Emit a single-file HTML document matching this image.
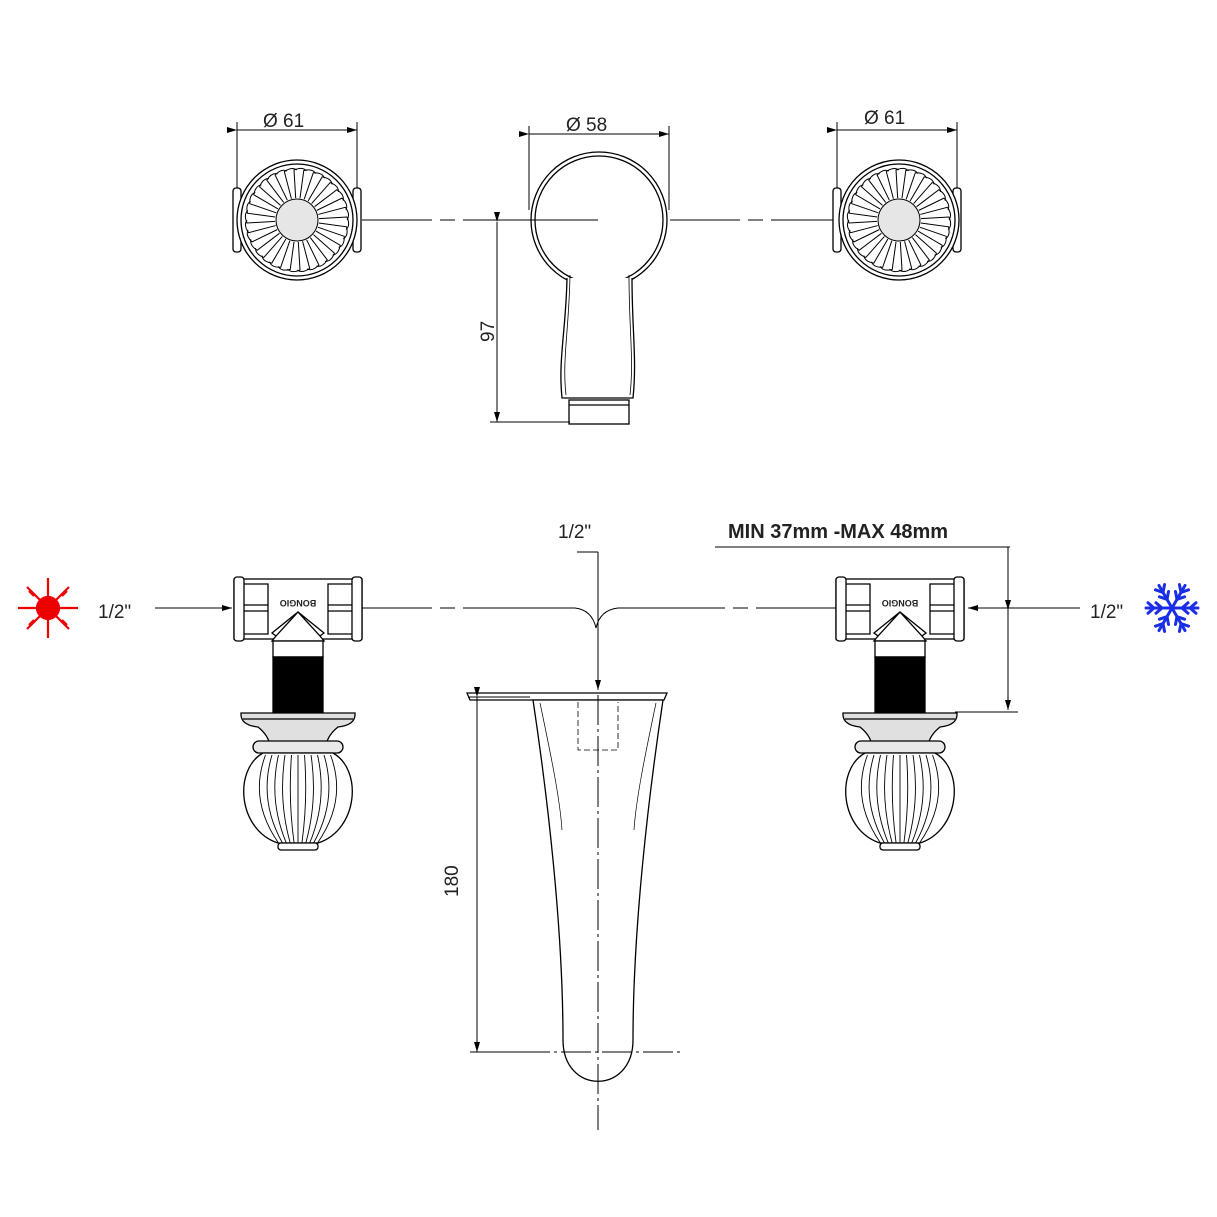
<!DOCTYPE html>
<html><head><meta charset="utf-8"><style>
html,body{margin:0;padding:0;background:#fff}
svg{display:block}
text{font-family:"Liberation Sans",sans-serif;fill:#222}
</style></head><body>
<svg id="s" width="1217" height="1217" viewBox="0 0 1217 1217" xmlns="http://www.w3.org/2000/svg">
<defs>
<marker id="a" viewBox="0 0 10 10" refX="10" refY="5" markerWidth="10" markerHeight="10" orient="auto" markerUnits="userSpaceOnUse"><path d="M0,2 L10,5 L0,8 Z" fill="#000"/></marker>
</defs>
<g stroke="#000" fill="none" stroke-width="1.3">
<!-- top centre line -->
<path d="M362,220 H432 M440,220 H455 M463,220 H530 M670,220 H740 M748,220 H763 M771,220 H836" stroke-width="1"/>
<!-- top dims -->
<line x1="237" y1="130" x2="357" y2="130" marker-start="url(#a)" marker-end="url(#a)" stroke-width="1"/>
<line x1="237" y1="122" x2="237" y2="190" stroke-width="1"/>
<line x1="357" y1="122" x2="357" y2="190" stroke-width="1"/>
<line x1="837" y1="130" x2="957" y2="130" marker-start="url(#a)" marker-end="url(#a)" stroke-width="1"/>
<line x1="837" y1="122" x2="837" y2="190" stroke-width="1"/>
<line x1="957" y1="122" x2="957" y2="190" stroke-width="1"/>
<line x1="529" y1="134" x2="669" y2="134" marker-start="url(#a)" marker-end="url(#a)" stroke-width="1"/>
<line x1="529" y1="126" x2="529" y2="210" stroke-width="1"/>
<line x1="669" y1="126" x2="669" y2="210" stroke-width="1"/>
<!-- spout top view -->
<circle cx="599" cy="220" r="68" fill="#fff"/>
<circle cx="599" cy="220" r="64"/>
<path d="M567,278 C566,330 558,360 562,398 H633 C637,360 632,330 632,278" fill="#fff"/>
<path d="M570,275 C569,330 562,360 566,395 M629,275 C629,330 634,360 630,395" stroke-width="0.8"/>
<rect x="569" y="400" width="60" height="24" fill="#fff"/>
<line x1="569" y1="405" x2="629" y2="405"/>
<line x1="490" y1="220" x2="598" y2="220" stroke-width="1"/>
<line x1="497" y1="222" x2="497" y2="422" marker-start="url(#a)" marker-end="url(#a)" stroke-width="1"/>
<line x1="490" y1="422" x2="570" y2="422" stroke-width="1"/>
<!-- top knobs side tabs -->
<rect x="233" y="188" width="8" height="64" rx="3" fill="#fff"/>
<rect x="353" y="188" width="8" height="64" rx="3" fill="#fff"/>
<rect x="833" y="188" width="8" height="64" rx="3" fill="#fff"/>
<rect x="953" y="188" width="8" height="64" rx="3" fill="#fff"/>
<g id="k1"></g><g id="k2"></g>

<!-- bottom centre line -->
<path d="M362,608 H432 M440,608 H455 M463,608 H575 Q592,610 596,628 Q600,610 618,608 H725 M733,608 H748 M756,608 H836" stroke-width="1"/>
<line x1="577" y1="552" x2="598" y2="552" stroke-width="1"/>
<line x1="598" y1="552" x2="598" y2="690" marker-end="url(#a)" stroke-width="1"/>
<!-- inlet arrows -->
<line x1="155" y1="608" x2="232" y2="608" marker-end="url(#a)" stroke-width="1"/>
<line x1="1080" y1="608" x2="968" y2="608" marker-end="url(#a)" stroke-width="1"/>
<!-- min max dim -->
<line x1="715" y1="547" x2="1010" y2="547" stroke-width="1"/>
<line x1="1008" y1="547" x2="1008" y2="620" stroke-width="1"/>
<line x1="1008" y1="610" x2="1008" y2="710" marker-start="url(#a)" marker-end="url(#a)" stroke-width="1"/>
<line x1="955" y1="712" x2="1018" y2="712" stroke-width="1"/>
<!-- bottom spout -->
<path d="M467,693 H667 L664,700 H470 Z" fill="#fff"/>
<path d="M533,700 C548,800 563,930 563,1040 C563,1095 633,1095 633,1040 C633,930 648,800 663,700 Z" fill="#fff"/>
<path d="M540,703 C552,760 560,800 562,830 M656,703 C644,760 636,800 634,830" stroke-width="0.7"/>
<path d="M578,702 V750 H618 V702" stroke-width="0.8" stroke-dasharray="6 3"/>
<line x1="598" y1="695" x2="598" y2="1130" stroke-width="1" stroke-dasharray="30 4 3 4"/>
<line x1="520" y1="1052" x2="680" y2="1052" stroke-width="1" stroke-dasharray="30 4 3 4"/>
<line x1="468" y1="697" x2="530" y2="697" stroke-width="1"/>
<line x1="470" y1="1052" x2="530" y2="1052" stroke-width="1"/>
<line x1="477" y1="697" x2="477" y2="1052" marker-start="url(#a)" marker-end="url(#a)" stroke-width="1"/>
<g id="v1"></g><g id="v2"></g>
</g>
<g font-size="19">
<text x="263" y="127">Ø 61</text>
<text x="864" y="124">Ø 61</text>
<text x="566" y="131">Ø 58</text>
<text x="558" y="538">1/2"</text>
<text x="98" y="618">1/2"</text>
<text x="1090" y="618">1/2"</text>
<text transform="translate(494,342) rotate(-90)">97</text>
<text transform="translate(458,897) rotate(-90)">180</text>
<text x="728" y="538" font-weight="bold" font-size="20">MIN 37mm -MAX 48mm</text>
</g>
<!-- sun -->
<g stroke="#e00" stroke-width="2.2" fill="none">
<circle cx="48" cy="608" r="11" fill="#e00"/>
<path d="M18,608H78 M48,578V638 M27,587L69,629 M69,587L27,629"/>
<path d="M34,596l-5,-5m5,29l-5,5m33,-29l5,-5m-5,29l5,5"/>
</g>
<!-- snowflake -->
<g stroke="#1a2ee8" stroke-width="3" fill="none" stroke-linecap="round" id="sf"></g>
<script>
var NS="http://www.w3.org/2000/svg";
function el(p,t,a){var e=document.createElementNS(NS,t);for(var k in a)e.setAttribute(k,a[k]);p.appendChild(e);return e;}
function knob(id,cx,cy){var g=document.getElementById(id);
el(g,"circle",{cx:cx,cy:cy,r:60,fill:"#fff"});el(g,"circle",{cx:cx,cy:cy,r:56});
for(var i=0;i<32;i++){var a=i*Math.PI/16,b=a+0.06,c=a-0.06;
el(g,"path",{d:"M"+(cx+22*Math.cos(c))+","+(cy+22*Math.sin(c))+"L"+(cx+50*Math.cos(c))+","+(cy+50*Math.sin(c))+" Q"+(cx+54*Math.cos(a+0.1))+","+(cy+54*Math.sin(a+0.1))+" "+(cx+50*Math.cos(a+0.19))+","+(cy+50*Math.sin(a+0.19)),"stroke-width":1});}
el(g,"circle",{cx:cx,cy:cy,r:21,fill:"#e6e6e6","stroke-width":1});}
knob("k1",297,220);knob("k2",899,220);
function valve(id,cx,flip){var g=document.getElementById(id);var s=flip?-1:1;
function X(x){return cx+s*x;}
el(g,"rect",{x:Math.min(X(-64),X(64)),y:579,width:128,height:60,fill:"#fff"});
el(g,"rect",{x:Math.min(X(-64),X(-54)),y:577,width:10,height:64,rx:3,fill:"#fff"});
el(g,"rect",{x:Math.min(X(54),X(64)),y:577,width:10,height:64,rx:3,fill:"#fff"});
el(g,"path",{d:"M"+X(-54)+",584H"+X(-30)+"V634H"+X(-54)+" M"+X(54)+",584H"+X(30)+"V634H"+X(54)+" M"+X(-54)+",605H"+X(-30)+"M"+X(-54)+",611H"+X(-30)+"M"+X(54)+",605H"+X(30)+"M"+X(54)+",611H"+X(30)});
el(g,"path",{d:"M"+X(-26)+",641 L"+X(-22)+",636 L"+X(0)+",612 L"+X(22)+",636 L"+X(26)+",641 Z M"+X(-22)+",636 L"+X(-26)+",633 L"+X(0)+",612 L"+X(26)+",633 L"+X(22)+",636",fill:"#fff"});
el(g,"rect",{x:cx-25,y:641,width:50,height:16,fill:"#fff"});
el(g,"rect",{x:cx-25,y:657,width:50,height:55,fill:"#000"});
el(g,"path",{d:"M"+(cx-57)+",713 H"+(cx+57)+" Q"+(cx+58)+",725 "+(cx+40)+",727 Q"+(cx+30)+",735 "+(cx+28)+",745 H"+(cx-28)+" Q"+(cx-30)+",735 "+(cx-40)+",727 Q"+(cx-58)+",725 "+(cx-57)+",713Z",fill:"#e0e0e0"});
el(g,"line",{x1:cx-55,y1:719,x2:cx+55,y2:719});
el(g,"rect",{x:cx-45,y:741,width:90,height:12,rx:6,fill:"#e8e8e8"});
el(g,"path",{d:"M"+(cx-35)+",753 C"+(cx-65)+",770 "+(cx-60)+",830 "+(cx-20)+",843 H"+(cx+20)+" C"+(cx+60)+",830 "+(cx+65)+",770 "+(cx+35)+",753Z",fill:"#fff"});
for(var i=-5;i<=5;i++){var o=i*6.5,w=i*9;
el(g,"path",{d:"M"+(cx+o)+",755 Q"+(cx+w*1.1)+",800 "+(cx+o*0.6)+",843","stroke-width":0.9});}
el(g,"rect",{x:cx-20,y:843,width:40,height:7,rx:3,fill:"#fff"});
var t=el(g,"text",{x:cx,y:608,"font-size":9,"font-weight":"bold","text-anchor":"middle",transform:"rotate(180 "+cx+" 604)",stroke:"none",fill:"#000"});t.textContent="BONGIO";}
valve("v1",298,false);valve("v2",900,true);
var sf=document.getElementById("sf");var cx=1172,cy=608;
for(var i=0;i<6;i++){var a=i*Math.PI/3,c=Math.cos(a),s=Math.sin(a);
el(sf,"line",{x1:cx,y1:cy,x2:cx+26*c,y2:cy+26*s});
[10,18].forEach(function(r){var px=cx+r*c,py=cy+r*s;
[0.6,-0.6].forEach(function(d){var b=a+d*1.2;el(sf,"line",{x1:px,y1:py,x2:px+8*Math.cos(b),y2:py+8*Math.sin(b)});});});}
</script>
</svg>
</body></html>
